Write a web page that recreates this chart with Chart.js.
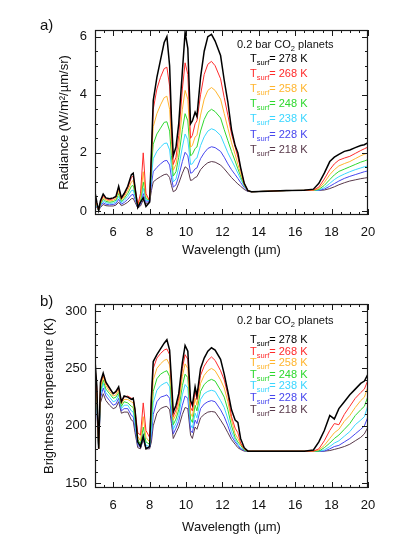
<!DOCTYPE html>
<html>
<head>
<meta charset="utf-8">
<script src="https://cdn.jsdelivr.net/npm/chart.js@4.4.1/dist/chart.umd.min.js"></script>
<style>
  html, body { margin: 0; padding: 0; background: #fff; }
  #wrap { position: relative; width: 399px; height: 549px; overflow: hidden; font-family: "Liberation Sans", Arial, sans-serif; color: #111; }
  canvas { position: absolute; left: 0; }
  #radChart { top: 0; }
  #btChart { top: 275px; }
  .tag { position: absolute; left: 40px; font-size: 15px; line-height: 16px; }
  .key { position: absolute; font-size: 11px; line-height: 12px; white-space: nowrap; }
  .key sub { font-size: 7.5px; vertical-align: -3px; line-height: 0; }
</style>
</head>
<body>
<div id="wrap">
  <canvas id="radChart" width="399" height="275"></canvas>
  <canvas id="btChart" width="399" height="274"></canvas>
  <div class="tag" style="top:17px">a)</div>
  <div class="tag" style="top:293px">b)</div>
</div>
<script>
// wavelength grid (µm), shared by both panels
const wavelength = [5.0, 5.1, 5.2, 5.3, 5.45, 5.6, 5.8, 6.0, 6.15, 6.3,
  6.45, 6.6, 6.8, 7.0, 7.1, 7.2, 7.35, 7.5, 7.65, 7.8,
  8.0, 8.1, 8.2, 8.4, 8.6, 8.8, 8.95, 9.1, 9.2, 9.3,
  9.45, 9.6, 9.8, 9.95, 10.1, 10.25, 10.35, 10.5, 10.6, 10.8,
  11.0, 11.2, 11.4, 11.6, 11.9, 12.1, 12.3, 12.5, 12.7, 12.85,
  13.0, 13.2, 13.4, 13.6, 14.5, 15.5, 16.5, 17.0, 17.3, 17.6,
  17.9, 18.15, 18.4, 18.7, 19.0, 19.3, 19.6, 19.8, 20.0];

const temps = [278, 268, 258, 248, 238, 228, 218];
const colours = ["#000000", "#ff2b2b", "#ffb52e", "#2fd82f", "#3ad6ff", "#4646ee", "#58384a"];

// a) radiance, W/m2/um/sr
const rad278 = [0.65, 0.3, 0.02, 0.35, 0.58, 0.45, 0.42, 0.45, 0.5, 0.85,
  0.45, 0.6, 0.85, 1.25, 1.3, 0.8, 0.12, 0.3, 0.45, 0.15,
  0.3, 2.0, 3.8, 4.6, 5.2, 5.8, 6.0, 5.0, 3.2, 1.9,
  2.2, 3.0, 4.8, 6.15, 5.6, 3.0, 3.1, 3.4, 3.25, 4.6,
  5.5, 6.0, 6.08, 5.85, 5.35, 4.5, 3.75, 2.8, 2.25, 2.0,
  1.5, 0.95, 0.7, 0.66, 0.68, 0.7, 0.71, 0.75, 0.95, 1.3,
  1.7, 1.85, 1.95, 2.05, 2.1, 2.18, 2.25, 2.28, 2.35];
const rad268 = [0.5, 0.25, 0.02, 0.3, 0.52, 0.42, 0.38, 0.42, 0.48, 0.8,
  0.42, 0.55, 0.8, 1.15, 1.2, 0.8, 0.2, 0.6, 2.0, 0.6,
  0.35, 1.9, 3.5, 4.2, 4.6, 4.9, 4.95, 4.3, 2.8, 1.6,
  1.85, 2.6, 4.2, 5.1, 4.7, 2.5, 2.6, 3.0, 3.1, 4.0,
  4.7, 5.05, 5.15, 5.0, 4.55, 3.9, 3.3, 2.65, 2.2, 1.85,
  1.45, 0.95, 0.7, 0.66, 0.68, 0.7, 0.71, 0.72, 0.82, 1.1,
  1.42, 1.62, 1.75, 1.82, 1.88, 1.98, 2.08, 2.14, 2.2];
const rad258 = [0.45, 0.22, 0.02, 0.27, 0.46, 0.38, 0.34, 0.37, 0.42, 0.7,
  0.38, 0.48, 0.7, 1.0, 1.05, 0.7, 0.2, 0.45, 1.35, 0.5,
  0.38, 1.7, 2.9, 3.35, 3.65, 3.9, 3.95, 3.5, 2.4, 1.4,
  1.6, 2.2, 3.5, 4.15, 3.85, 2.2, 2.25, 2.55, 2.6, 3.3,
  3.85, 4.15, 4.25, 4.15, 3.85, 3.35, 2.85, 2.35, 1.95, 1.6,
  1.3, 0.9, 0.7, 0.66, 0.68, 0.7, 0.71, 0.71, 0.77, 0.98,
  1.25, 1.42, 1.55, 1.63, 1.7, 1.8, 1.9, 1.95, 2.0];
const rad248 = [0.4, 0.2, 0.02, 0.24, 0.41, 0.33, 0.3, 0.32, 0.37, 0.6,
  0.33, 0.42, 0.6, 0.85, 0.88, 0.6, 0.17, 0.35, 1.0, 0.42,
  0.38, 1.45, 2.3, 2.65, 2.85, 3.05, 3.07, 2.75, 1.9, 1.2,
  1.35, 1.85, 2.8, 3.35, 3.1, 1.9, 1.95, 2.15, 2.2, 2.75,
  3.15, 3.4, 3.5, 3.42, 3.2, 2.8, 2.42, 2.05, 1.72, 1.45,
  1.2, 0.88, 0.7, 0.66, 0.68, 0.7, 0.71, 0.71, 0.74, 0.88,
  1.08, 1.24, 1.36, 1.44, 1.52, 1.6, 1.68, 1.72, 1.77];
const rad238 = [0.35, 0.17, 0.02, 0.2, 0.35, 0.28, 0.26, 0.27, 0.31, 0.5,
  0.28, 0.36, 0.5, 0.7, 0.72, 0.5, 0.15, 0.28, 0.78, 0.36,
  0.36, 1.15, 1.8, 2.05, 2.2, 2.32, 2.34, 2.1, 1.5, 1.0,
  1.1, 1.5, 2.2, 2.65, 2.45, 1.6, 1.62, 1.78, 1.82, 2.25,
  2.55, 2.75, 2.83, 2.78, 2.6, 2.3, 2.0, 1.75, 1.5, 1.3,
  1.1, 0.85, 0.7, 0.66, 0.68, 0.7, 0.71, 0.71, 0.72, 0.8,
  0.95, 1.08, 1.18, 1.27, 1.35, 1.42, 1.48, 1.52, 1.55];
const rad228 = [0.3, 0.14, 0.02, 0.16, 0.28, 0.23, 0.21, 0.22, 0.25, 0.4,
  0.23, 0.29, 0.4, 0.55, 0.57, 0.4, 0.12, 0.22, 0.6, 0.3,
  0.33, 0.9, 1.35, 1.5, 1.62, 1.72, 1.74, 1.58, 1.15, 0.82,
  0.9, 1.2, 1.7, 2.02, 1.9, 1.3, 1.32, 1.45, 1.48, 1.8,
  2.0, 2.15, 2.21, 2.18, 2.05, 1.85, 1.62, 1.42, 1.25, 1.12,
  0.98, 0.8, 0.68, 0.66, 0.68, 0.7, 0.71, 0.71, 0.71, 0.75,
  0.85, 0.94, 1.03, 1.12, 1.19, 1.25, 1.31, 1.35, 1.38];
const rad218 = [0.25, 0.12, 0.02, 0.12, 0.22, 0.18, 0.17, 0.17, 0.2, 0.3,
  0.18, 0.22, 0.3, 0.42, 0.43, 0.3, 0.1, 0.17, 0.38, 0.24,
  0.3, 0.7, 1.0, 1.1, 1.18, 1.25, 1.27, 1.15, 0.88, 0.66,
  0.72, 0.95, 1.3, 1.52, 1.45, 1.05, 1.07, 1.15, 1.18, 1.42,
  1.56, 1.66, 1.7, 1.68, 1.58, 1.45, 1.3, 1.15, 1.02, 0.93,
  0.85, 0.74, 0.67, 0.66, 0.68, 0.7, 0.71, 0.71, 0.71, 0.72,
  0.77, 0.83, 0.9, 0.97, 1.03, 1.07, 1.11, 1.13, 1.15];

// b) brightness temperature, K
const bt278 = [257, 235, 180, 238, 246, 238, 233, 228, 230, 234,
  221, 226, 225, 223, 224, 214, 186, 182, 191, 180,
  182, 225, 256, 262, 267, 272, 275, 266, 240, 212,
  218, 228, 255, 270, 265, 222, 218, 234, 226, 250,
  259, 265, 268, 266, 258, 245, 230, 214, 205, 203,
  189, 181, 178, 178, 178, 178, 178, 179, 186, 196,
  209, 206, 215, 221, 227, 232, 237, 239, 245];
const bt268 = [252, 232, 180, 236, 245, 237, 232, 228, 229, 233,
  221, 225, 226, 224, 224, 214, 194, 192, 220, 196,
  190, 225, 250, 259, 263, 266, 267, 262, 236, 208,
  214, 224, 250, 262, 258, 216, 213, 230, 223, 244,
  252, 257, 260, 257, 248, 240, 227, 208, 198, 194,
  185, 180, 178, 178, 178, 178, 178, 178, 180, 187,
  196, 202, 201, 210, 217, 224, 229, 232, 240];
const bt258 = [248, 229, 180, 233, 243, 235, 230, 226, 227, 231,
  219, 223, 223, 221, 220, 210, 191, 187, 208, 190,
  186, 215, 240, 250, 254, 257, 258, 253, 229, 205,
  210, 219, 243, 254, 250, 211, 208, 224, 218, 237,
  244, 248, 250, 248, 240, 233, 221, 205, 193, 189,
  184, 180, 178, 178, 178, 178, 178, 178, 179, 183,
  189, 194, 197, 204, 209, 216, 222, 225, 234];
const bt248 = [243, 226, 180, 230, 240, 232, 228, 224, 225, 229,
  217, 221, 220, 217, 216, 206, 188, 184, 199, 186,
  184, 205, 230, 241, 245, 247, 248, 243, 222, 201,
  206, 214, 235, 245, 242, 206, 203, 218, 213, 230,
  236, 239, 240.5, 239, 231, 225, 214, 200, 190, 186,
  183, 179, 178, 178, 178, 178, 178, 178, 178, 181,
  185, 189, 192, 197, 202, 209, 214, 217, 226];
const bt238 = [238, 222, 180, 227, 237, 229, 225, 221, 222, 227,
  215, 218, 218, 213, 212, 202, 185, 182, 193, 183,
  182, 196, 220, 231, 235, 237, 238, 234, 215, 197,
  202, 209, 227, 236, 233, 201, 198, 211, 207, 223,
  228, 230, 231, 230, 222, 216, 206, 195, 188, 184,
  181, 179, 178, 178, 178, 178, 178, 178, 178, 179,
  182, 185, 187, 191, 195, 201, 205, 208, 218];
const bt228 = [232, 218, 180, 224, 233, 226, 222, 218, 219, 224,
  213, 215, 215, 209, 208, 198, 183, 181, 190, 181,
  181, 190, 210, 221, 225, 226, 227, 224, 208, 193,
  198, 204, 218, 226, 224, 196, 194, 205, 202, 215,
  219, 221, 222, 221, 214, 208, 200, 191, 186, 183,
  180, 178.5, 178, 178, 178, 178, 178, 178, 178, 178,
  180, 182, 183, 186, 189, 193, 197, 200, 208];
const bt218 = [225, 213, 180, 220, 228, 222, 218, 215, 216, 221,
  211, 212, 212, 205, 204, 194, 181, 180, 188, 180,
  180, 186, 200, 211, 215, 216.5, 217, 214, 202, 189,
  194, 199, 210, 216, 215, 192, 189, 199, 197, 207,
  210, 212, 212.5, 212, 205, 200, 194, 188, 184, 181,
  179.5, 178, 178, 178, 178, 178, 178, 178, 178, 178,
  178.5, 179.5, 180.5, 182, 184, 187, 190, 193, 199];

const xTicks = [6, 8, 10, 12, 14, 16, 18, 20];
const radTicks = [0, 2, 4, 6];
const btTicks = [150, 200, 250, 300];

Chart.defaults.font.family = '"Liberation Sans", Arial, sans-serif';
Chart.defaults.color = "#111";

// IDL-style frame with inward major and minor ticks on all four sides
const frameTicks = {
  id: "frameTicks",
  afterDatasetsDraw(chart, args, opts) {
    const { ctx, chartArea: a, scales } = chart;
    const marks = (scale, sub) => {
      const vals = scale.ticks.map(t => t.value);
      const step = vals[1] - vals[0];
      const out = [];
      for (let k = -sub; k <= (vals.length - 1) * sub + sub; k++) {
        const v = vals[0] + k * step / sub;
        if (v < scale.min - 1e-9 || v > scale.max + 1e-9) continue;
        out.push({ p: Math.round(scale.getPixelForValue(v)) + 0.5, len: k % sub === 0 ? 6 : 3 });
      }
      return out;
    };
    ctx.save();
    ctx.strokeStyle = "#1a1a1a";
    ctx.lineWidth = 1;
    ctx.beginPath();
    marks(scales.x, opts.xSub).forEach(m => {
      ctx.moveTo(m.p, a.bottom); ctx.lineTo(m.p, a.bottom - m.len);
      ctx.moveTo(m.p, a.top); ctx.lineTo(m.p, a.top + m.len);
    });
    marks(scales.y, opts.ySub).forEach(m => {
      ctx.moveTo(a.left, m.p); ctx.lineTo(a.left + m.len, m.p);
      ctx.moveTo(a.right, m.p); ctx.lineTo(a.right - m.len, m.p);
    });
    ctx.stroke();
    ctx.lineWidth = 1.2;
    ctx.strokeRect(Math.round(a.left) + 0.5, Math.round(a.top) + 0.5, Math.round(a.right - a.left) - 1, Math.round(a.bottom - a.top) - 1);
    ctx.restore();
  }
};

function panel(id, series, cfg) {
  return new Chart(document.getElementById(id), {
    type: "line",
    data: {
      datasets: series.map((s, i) => ({
        label: temps[i] + " K",
        data: wavelength.map((x, j) => ({ x, y: s[j] })),
        borderColor: colours[i],
        borderWidth: i === 0 ? 1.5 : 1,
        pointRadius: 0,
        tension: 0,
        fill: false
      }))
    },
    options: {
      responsive: false,
      animation: false,
      events: [],
      layout: { padding: { left: 0, right: 31, top: cfg.top, bottom: 0 } },
      plugins: {
        legend: { display: false },
        tooltip: { enabled: false },
        frameTicks: { xSub: 4, ySub: cfg.ySub }
      },
      scales: {
        x: {
          type: "linear", min: 5, max: 20,
          afterBuildTicks: s => { s.ticks = xTicks.map(value => ({ value })); },
          afterFit: s => { s.height = cfg.xHeight; },
          grid: { display: false, drawTicks: false },
          border: { display: false },
          ticks: { padding: 10, font: { size: 13 }, maxRotation: 0, autoSkip: false },
          title: { display: true, text: "Wavelength (µm)", font: { size: 13 }, padding: { top: 0, bottom: cfg.xTitlePad } }
        },
        y: {
          type: "linear", min: cfg.yMin, max: cfg.yMax,
          afterBuildTicks: s => { s.ticks = cfg.yTicks.map(value => ({ value })); },
          afterFit: s => { s.width = 95; },
          grid: { display: false, drawTicks: false },
          border: { display: false },
          ticks: { padding: 8, font: { size: 13 }, autoSkip: false },
          title: { display: true, text: cfg.yTitle, font: { size: 13 }, padding: { top: cfg.yTitlePad, bottom: 0 } }
        }
      }
    },
    plugins: [frameTicks]
  });
}

panel("radChart", [rad278, rad268, rad258, rad248, rad238, rad228, rad218], {
  top: 30, xHeight: 60, xTitlePad: 17, yMin: -0.14, yMax: 6.23, yTicks: radTicks, ySub: 4,
  yTitle: "Radiance (W/m²/µm/sr)", yTitlePad: 57
});
panel("btChart", [bt278, bt268, bt258, bt248, bt238, bt228, bt218], {
  top: 29, xHeight: 61, xTitlePad: 14, yMin: 145.9, yMax: 306.1, yTicks: btTicks, ySub: 5,
  yTitle: "Brightness temperature (K)", yTitlePad: 42
});

// in-plot key with subscripts
function addKey(titleY, firstY, gap) {
  const wrap = document.getElementById("wrap");
  const head = document.createElement("div");
  head.className = "key";
  head.style.left = "237px";
  head.style.top = (titleY - 6) + "px";
  head.innerHTML = "0.2 bar CO<sub>2</sub> planets";
  wrap.appendChild(head);
  temps.forEach((t, i) => {
    const row = document.createElement("div");
    row.className = "key";
    row.style.left = "250px";
    row.style.top = (firstY + i * gap - 6) + "px";
    row.style.color = colours[i];
    row.innerHTML = "T<sub>surf</sub>= " + t + " K";
    wrap.appendChild(row);
  });
}
addKey(44, 57.5, 15.2);
addKey(320, 339, 11.6);
</script>
</body>
</html>
